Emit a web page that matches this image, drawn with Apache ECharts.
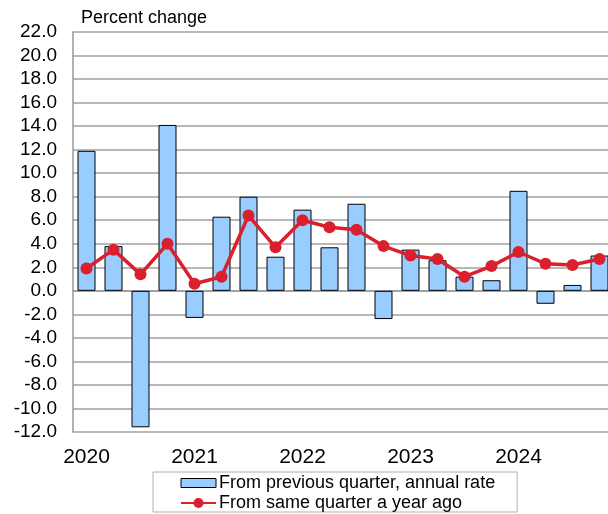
<!DOCTYPE html>
<html>
<head>
<meta charset="utf-8">
<script src="https://cdn.jsdelivr.net/npm/echarts@6/dist/echarts.min.js"></script>
<style>html,body{margin:0;padding:0;background:#fff}#c{width:608px;height:514px}</style>
</head>
<body>
<div id="c"></div>
<script>
var quarters = ['2020 Q1','2020 Q2','2020 Q3','2020 Q4','2021 Q1','2021 Q2','2021 Q3','2021 Q4','2022 Q1','2022 Q2','2022 Q3','2022 Q4','2023 Q1','2023 Q2','2023 Q3','2023 Q4','2024 Q1','2024 Q2','2024 Q3','2024 Q4'];
var prevQuarter = [11.9, 3.8, -11.6, 14.1, -2.3, 6.3, 8.0, 2.9, 6.9, 3.7, 7.4, -2.4, 3.5, 2.6, 1.2, 0.9, 8.5, -1.1, 0.5, 3.0];
var yearAgo = [1.9, 3.5, 1.4, 4.0, 0.6, 1.2, 6.4, 3.7, 6.0, 5.4, 5.2, 3.8, 3.0, 2.7, 1.2, 2.1, 3.3, 2.3, 2.2, 2.7];
var seriesNames = ['From previous quarter, annual rate', 'From same quarter a year ago'];
var yTitle = 'Percent change';

var chart = echarts.init(document.getElementById('c'));
var font = 'Liberation Sans, Arial, sans-serif';
chart.setOption({
  animation: false,
  textStyle: {fontFamily: font},
  title: {text: yTitle, left: 76, top: 4, textStyle: {fontFamily: font, fontSize: 18, fontWeight: 'normal', color: '#000'}},
  grid: {left: 73, top: 32, width: 540, height: 400, containLabel: false, outerBoundsMode: 'none'},
  legend: {
    orient: 'vertical', left: 153, top: 472, padding: [2, 22, 0, 27], itemGap: 2,
    itemWidth: 35, itemHeight: 12.5, borderColor: '#b0b0b0', borderWidth: 1,
    textStyle: {fontFamily: font, fontSize: 18, color: '#000', padding: [0,0,0,-2]},
    data: [
      {name: seriesNames[0], icon: 'path://M0,0 M0,1.75 L35,1.75 L35,10.75 L0,10.75 Z M35,12.5', itemStyle: {borderWidth: 1}},
      {name: seriesNames[1]}
    ]
  },
  xAxis: {
    type: 'category', data: quarters,
    axisLine: {lineStyle: {color: '#999', width: 1.5}},
    axisTick: {show: false},
    axisLabel: {interval: 3, margin: 15, fontSize: 21, color: '#000', fontFamily: font,
      formatter: function (v) { return v.split(' ')[0]; }}
  },
  yAxis: {
    type: 'value', min: -12, max: 22, interval: 2,
    axisLine: {show: true, lineStyle: {color: '#999', width: 1.5}},
    axisTick: {show: false},
    splitLine: {lineStyle: {color: '#a0a0a0', width: 1.5}},
    axisLabel: {margin: 16, fontSize: 19, color: '#000', fontFamily: font,
      formatter: function (v) { return v.toFixed(1); }}
  },
  series: [
    {name: seriesNames[0], type: 'bar', data: prevQuarter, barWidth: 18,
      itemStyle: {color: '#99ccff', borderColor: '#000', borderWidth: 1}},
    {name: seriesNames[1], type: 'line', data: yearAgo, symbol: 'circle', symbolSize: 12,
      lineStyle: {color: '#d9202c', width: 3.5}, itemStyle: {color: '#d9202c'}}
  ]
});
</script>
</body>
</html>
